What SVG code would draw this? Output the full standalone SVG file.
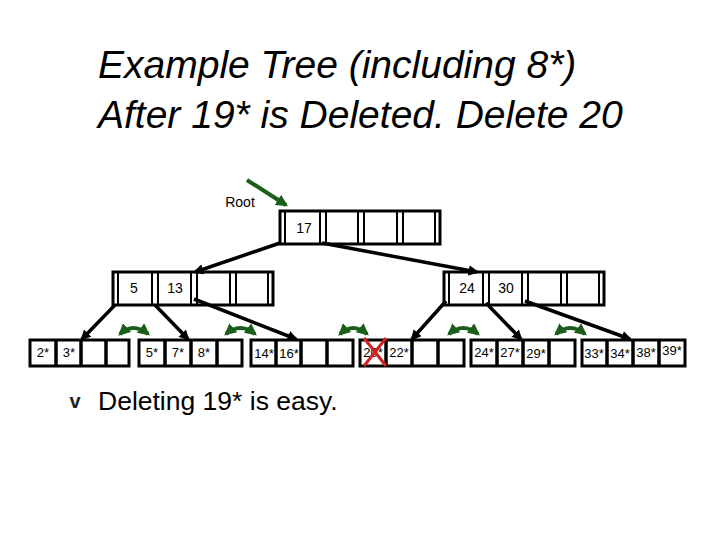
<svg xmlns="http://www.w3.org/2000/svg" width="720" height="540" viewBox="0 0 720 540">
<style>
.n{fill:#fff;stroke:#000;stroke-width:3}
.d{stroke:#000;stroke-width:2}
.k{font-family:"Liberation Sans",Arial,sans-serif;font-size:14px;text-anchor:middle}
.lk{font-family:"Liberation Sans",Arial,sans-serif;font-size:13px;text-anchor:middle}
.e{stroke:#000;stroke-width:3.5;fill:none}
.g{fill:none;stroke:#1a5e1a;stroke-width:4}
</style>
<defs>
<marker id="ah" viewBox="0 0 10 10" refX="8" refY="5" markerWidth="3" markerHeight="3" orient="auto"><path d="M0,0L10,5L0,10z" fill="#000"/></marker>
<marker id="gh" viewBox="0 0 10 10" refX="8" refY="5" markerWidth="3" markerHeight="3" orient="auto-start-reverse"><path d="M0,0L10,5L0,10z" fill="#1a5e1a"/></marker>
</defs>
<rect width="720" height="540" fill="#fff"/>
<text x="98" y="78" font-family="Liberation Sans,Arial,sans-serif" font-size="39" font-style="italic">Example Tree (including 8*)</text>
<text x="98" y="128" font-family="Liberation Sans,Arial,sans-serif" font-size="39" font-style="italic">After 19* is Deleted. Delete 20</text>

<g id="root">
<text x="240" y="207" font-family="Liberation Sans,Arial,sans-serif" font-size="14" text-anchor="middle">Root</text>
<rect class="n" x="280" y="211" width="160" height="33"/>
<path class="d" d="M285,211V244M320,211V244M326,211V244M358,211V244M364,211V244M397,211V244M403,211V244M435,211V244"/>
<text class="k" x="304" y="233">17</text>
</g>
<g id="i1">
<rect class="n" x="113" y="272" width="160" height="33"/>
<path class="d" d="M118,272V305M152,272V305M158,272V305M191,272V305M197,272V305M230,272V305M236,272V305M268,272V305"/>
<text class="k" x="134" y="293">5</text>
<text class="k" x="175" y="293">13</text>
</g>
<g id="i2">
<rect class="n" x="444" y="272" width="160" height="33"/>
<path class="d" d="M449,272V305M483,272V305M489,272V305M522,272V305M528,272V305M561,272V305M567,272V305M599,272V305"/>
<text class="k" x="467" y="293">24</text>
<text class="k" x="506" y="293">30</text>
</g>
<g id="l1"><rect class="n" x="30" y="340" width="99" height="26"/><path class="e" d="M56,340V366M81,340V366M106,340V366"/><text class="lk" x="43" y="357">2*</text><text class="lk" x="69" y="357">3*</text></g>
<g id="l2"><rect class="n" x="139" y="340" width="103" height="26"/><path class="e" d="M165,340V366M191,340V366M217,340V366"/><text class="lk" x="152" y="357">5*</text><text class="lk" x="178" y="357">7*</text><text class="lk" x="204" y="357">8*</text></g>
<g id="l3"><rect class="n" x="251" y="340" width="102" height="26"/><path class="e" d="M276,340V366M301,340V366M327,340V366"/><text class="lk" x="264" y="358">14*</text><text class="lk" x="289" y="358">16*</text></g>
<g id="l4"><rect class="n" x="360" y="340" width="104" height="26"/><path class="e" d="M386,340V366M412,340V366M438,340V366"/><text class="lk" x="373" y="357">20*</text><text class="lk" x="399" y="357">22*</text>
<path d="M364,338L386,366M386,338L364,366" stroke="#d42020" stroke-width="3"/></g>
<g id="l5"><rect class="n" x="471" y="340" width="104" height="26"/><path class="e" d="M497,340V366M523,340V366M549,340V366"/><text class="lk" x="484" y="357">24*</text><text class="lk" x="510" y="357">27*</text><text class="lk" x="536" y="358">29*</text></g>
<g id="l6"><rect class="n" x="582" y="340" width="103" height="26"/><path class="e" d="M607,340V366M633,340V366M659,340V366"/><text class="lk" x="594" y="358">33*</text><text class="lk" x="620" y="358">34*</text><text class="lk" x="646" y="357">38*</text><text class="lk" x="672" y="355">39*</text></g>

<g id="connectors">
<path d="M247,180L286,205" stroke="#1a5e1a" stroke-width="4" marker-end="url(#gh)"/>
<path class="e" d="M280,243L195,272" marker-end="url(#ah)"/>
<path class="e" d="M322,243L477,272" marker-end="url(#ah)"/>
<path class="e" d="M115,305L82,339" marker-end="url(#ah)"/>
<path class="e" d="M155,305L188,339" marker-end="url(#ah)"/>
<path class="e" d="M194,299L296,339" marker-end="url(#ah)"/>
<path class="e" d="M446,301L412,339" marker-end="url(#ah)"/>
<path class="e" d="M486,303L521,339" marker-end="url(#ah)"/>
<path class="e" d="M525,301L630,339" marker-end="url(#ah)"/>
<path class="g" d="M120,334Q133,322 148,334" marker-start="url(#gh)" marker-end="url(#gh)"/>
<path class="g" d="M226,334Q240,322 255,334" marker-start="url(#gh)" marker-end="url(#gh)"/>
<path class="g" d="M340,334Q353,322 367,334" marker-start="url(#gh)" marker-end="url(#gh)"/>
<path class="g" d="M449,334Q463,322 478,334" marker-start="url(#gh)" marker-end="url(#gh)"/>
<path class="g" d="M556,334Q570,322 585,334" marker-start="url(#gh)" marker-end="url(#gh)"/>
</g>
<text x="75" y="408" font-family="Liberation Sans,Arial,sans-serif" font-size="20" font-weight="bold" fill="#222" text-anchor="middle">v</text>
<text x="98" y="410" font-family="Liberation Sans,Arial,sans-serif" font-size="26.5">Deleting 19* is easy.</text>
</svg>
